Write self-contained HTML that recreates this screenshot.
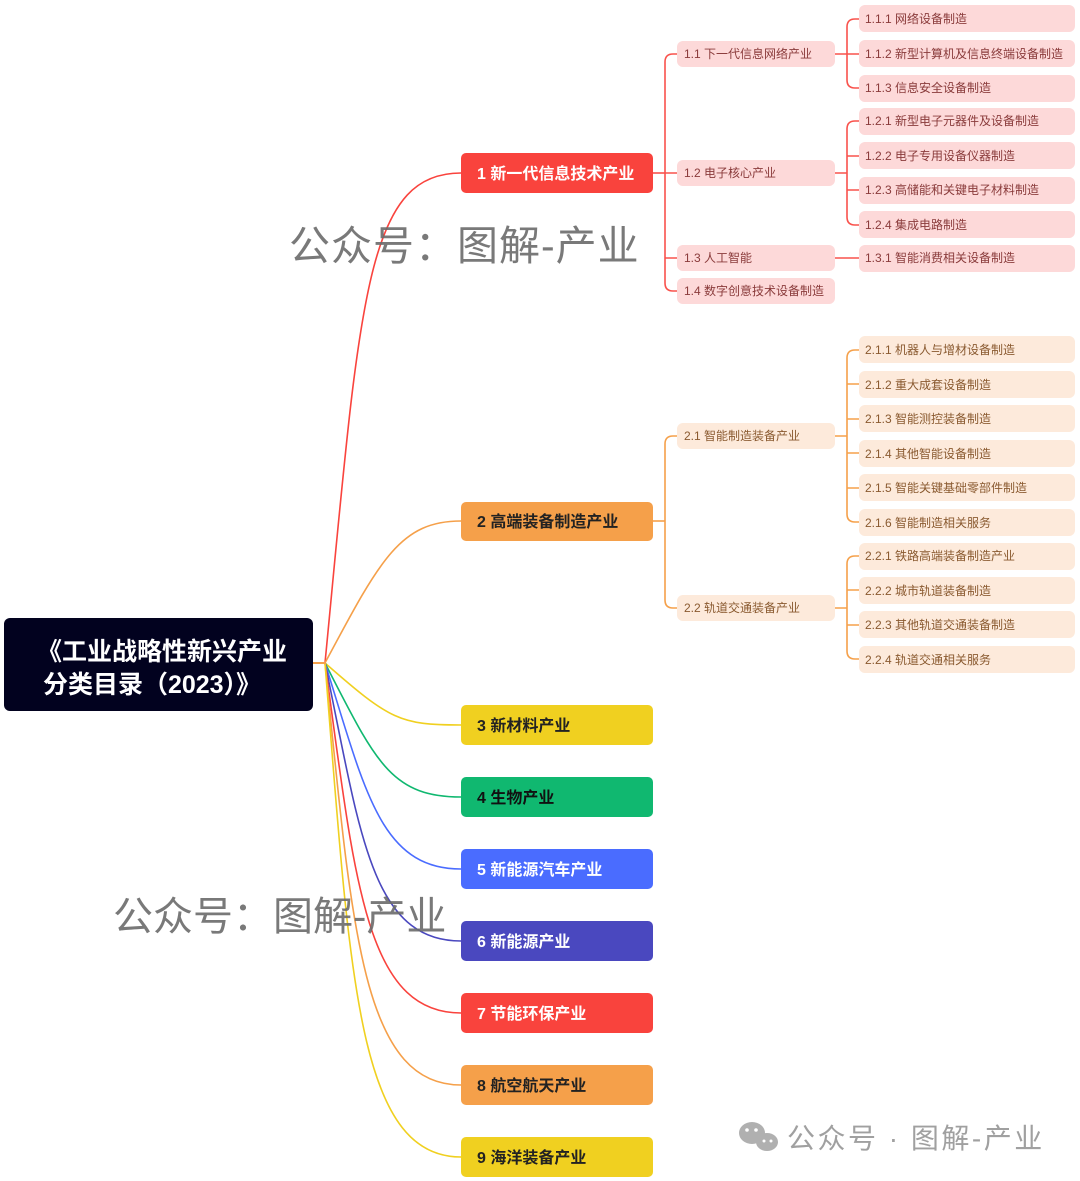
<!DOCTYPE html>
<html><head><meta charset="utf-8"><style>
html,body{margin:0;padding:0;background:#fff;}
svg{display:block;font-family:"Liberation Sans","Noto Sans CJK SC",sans-serif;}
</style></head><body>
<svg width="1080" height="1181" viewBox="0 0 1080 1181" xmlns="http://www.w3.org/2000/svg">
<g fill="none" stroke-width="1.6">
<path d="M325 663 C360 300 365 173 461 173" stroke="#f9433d"/>
<path d="M325 663 C380 560 400 521 461 521" stroke="#f5a04a"/>
<path d="M325 663 C390 720 400 725 461 725" stroke="#f0d020"/>
<path d="M325 663 C375 760 390 797 461 797" stroke="#10b870"/>
<path d="M325 663 C365 790 380 869 461 869" stroke="#4a6cff"/>
<path d="M325 663 C360 830 370 941 461 941" stroke="#4a48bf"/>
<path d="M325 663 C355 880 365 1013 461 1013" stroke="#f9433d"/>
<path d="M325 663 C352 930 362 1085 461 1085" stroke="#f5a04a"/>
<path d="M325 663 C350 980 358 1157 461 1157" stroke="#f0d020"/>
<path d="M313 663 H326" stroke="#f5a04a" stroke-width="2"/>
</g>
<g fill="none" stroke="#f9524c" stroke-width="1.6">
<path d="M653 173 H665"/>
<path d="M677 54 H673 Q665 54 665 62 V283 Q665 291 673 291 H677"/>
<path d="M665 173 H677 M665 258 H677"/>
<path d="M835 54 H847 M859 19 H855 Q847 19 847 27 V80 Q847 88 855 88 H859 M847 54 H859"/>
<path d="M835 173 H847 M859 121 H855 Q847 121 847 129 V217 Q847 225 855 225 H859 M847 156 H859 M847 190 H859"/>
<path d="M835 258 H859"/>
</g>
<g fill="none" stroke="#f5a04a" stroke-width="1.6">
<path d="M653 521 H665"/>
<path d="M677 436 H673 Q665 436 665 444 V600 Q665 608 673 608 H677"/>
<path d="M835 436 H847 M859 350 H855 Q847 350 847 358 V514 Q847 522 855 522 H859 M847 384 H859 M847 419 H859 M847 453 H859 M847 488 H859"/>
<path d="M835 608 H847 M859 556 H855 Q847 556 847 564 V651 Q847 659 855 659 H859 M847 590 H859 M847 625 H859"/>
</g>
<rect x="4" y="618" width="309" height="93" rx="6" fill="#02021f"/>
<text x="162" y="660" text-anchor="middle" font-size="25" font-weight="bold" fill="#fff">《工业战略性新兴产业</text>
<text x="152" y="693" text-anchor="middle" font-size="25" font-weight="bold" fill="#fff">分类目录（2023）》</text>
<g font-size="16" font-weight="bold">
<rect x="461" y="153" width="192" height="40" rx="5" fill="#f9433d"/><text x="477" y="179" fill="#fff">1 新一代信息技术产业</text>
<rect x="461" y="502" width="192" height="39" rx="5" fill="#f5a04a"/><text x="477" y="527" fill="#222">2 高端装备制造产业</text>
<rect x="461" y="705" width="192" height="40" rx="5" fill="#f0d020"/><text x="477" y="731" fill="#222">3 新材料产业</text>
<rect x="461" y="777" width="192" height="40" rx="5" fill="#10b870"/><text x="477" y="803" fill="#111">4 生物产业</text>
<rect x="461" y="849" width="192" height="40" rx="5" fill="#4a6cff"/><text x="477" y="875" fill="#fff">5 新能源汽车产业</text>
<rect x="461" y="921" width="192" height="40" rx="5" fill="#4a48bf"/><text x="477" y="947" fill="#fff">6 新能源产业</text>
<rect x="461" y="993" width="192" height="40" rx="5" fill="#f9433d"/><text x="477" y="1019" fill="#fff">7 节能环保产业</text>
<rect x="461" y="1065" width="192" height="40" rx="5" fill="#f5a04a"/><text x="477" y="1091" fill="#222">8 航空航天产业</text>
<rect x="461" y="1137" width="192" height="40" rx="5" fill="#f0d020"/><text x="477" y="1163" fill="#222">9 海洋装备产业</text>
</g>
<g font-size="12" fill="#8a3b3b">
<g fill="#fdd9d9">
<rect x="677" y="41" width="158" height="26" rx="6"/><rect x="677" y="160" width="158" height="26" rx="6"/><rect x="677" y="245" width="158" height="26" rx="6"/><rect x="677" y="278" width="158" height="26" rx="6"/>
<rect x="859" y="5" width="216" height="27" rx="6"/><rect x="859" y="40" width="216" height="27" rx="6"/><rect x="859" y="75" width="216" height="27" rx="6"/><rect x="859" y="108" width="216" height="27" rx="6"/><rect x="859" y="142" width="216" height="27" rx="6"/><rect x="859" y="177" width="216" height="27" rx="6"/><rect x="859" y="211" width="216" height="27" rx="6"/><rect x="859" y="245" width="216" height="27" rx="6"/>
</g>
<text x="684" y="58">1.1 下一代信息网络产业</text><text x="684" y="177">1.2 电子核心产业</text><text x="684" y="262">1.3 人工智能</text><text x="684" y="295">1.4 数字创意技术设备制造</text>
<text x="865" y="23">1.1.1 网络设备制造</text><text x="865" y="58">1.1.2 新型计算机及信息终端设备制造</text><text x="865" y="92">1.1.3 信息安全设备制造</text><text x="865" y="125">1.2.1 新型电子元器件及设备制造</text><text x="865" y="160">1.2.2 电子专用设备仪器制造</text><text x="865" y="194">1.2.3 高储能和关键电子材料制造</text><text x="865" y="229">1.2.4 集成电路制造</text><text x="865" y="262">1.3.1 智能消费相关设备制造</text>
</g>
<g font-size="12" fill="#8a5a30">
<g fill="#fdeadb">
<rect x="677" y="423" width="158" height="26" rx="6"/><rect x="677" y="595" width="158" height="26" rx="6"/>
<rect x="859" y="336" width="216" height="27" rx="6"/><rect x="859" y="371" width="216" height="27" rx="6"/><rect x="859" y="405" width="216" height="27" rx="6"/><rect x="859" y="440" width="216" height="27" rx="6"/><rect x="859" y="474" width="216" height="27" rx="6"/><rect x="859" y="509" width="216" height="27" rx="6"/><rect x="859" y="543" width="216" height="27" rx="6"/><rect x="859" y="577" width="216" height="27" rx="6"/><rect x="859" y="611" width="216" height="27" rx="6"/><rect x="859" y="646" width="216" height="27" rx="6"/>
</g>
<text x="684" y="440">2.1 智能制造装备产业</text><text x="684" y="612">2.2 轨道交通装备产业</text>
<text x="865" y="354">2.1.1 机器人与增材设备制造</text><text x="865" y="389">2.1.2 重大成套设备制造</text><text x="865" y="423">2.1.3 智能测控装备制造</text><text x="865" y="458">2.1.4 其他智能设备制造</text><text x="865" y="492">2.1.5 智能关键基础零部件制造</text><text x="865" y="527">2.1.6 智能制造相关服务</text><text x="865" y="560">2.2.1 铁路高端装备制造产业</text><text x="865" y="595">2.2.2 城市轨道装备制造</text><text x="865" y="629">2.2.3 其他轨道交通装备制造</text><text x="865" y="664">2.2.4 轨道交通相关服务</text>
</g>
<text x="289" y="260" font-size="41" letter-spacing="1" fill="#6a6a6a" fill-opacity="0.9">公众号：图解-产业</text>
<text x="113" y="930" font-size="40" fill="#6a6a6a" fill-opacity="0.9">公众号：图解-产业</text>
<g fill="#b0b0b0">
<ellipse cx="752" cy="1133" rx="13" ry="11"/><ellipse cx="767" cy="1142" rx="11" ry="9"/>
</g>
<g fill="#fff"><circle cx="747" cy="1130" r="1.8"/><circle cx="756" cy="1130" r="1.8"/><circle cx="764" cy="1141" r="1.5"/><circle cx="771" cy="1141" r="1.5"/></g>
<text x="787" y="1148" font-size="28" letter-spacing="2.5" fill="#a0a0a0">公众号 · 图解-产业</text>
</svg>
</body></html>
